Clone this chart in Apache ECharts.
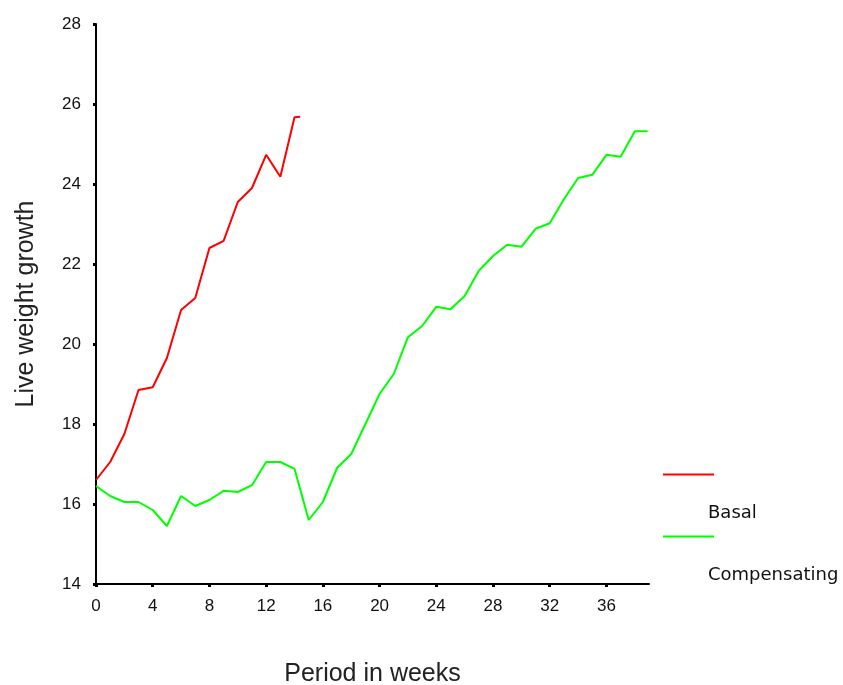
<!DOCTYPE html>
<html>
<head>
<meta charset="utf-8">
<script src="https://cdn.jsdelivr.net/npm/echarts@6/dist/echarts.min.js"></script>
<style>
    html, body { margin: 0; padding: 0; background: #fff; }
    #growthChart { width: 843px; height: 685px; }
</style>
</head>
<body>
<div id="growthChart"></div>
<script>
// weeks and live weight values
const basalWeeks = [0, 1, 2, 3, 4, 5, 6, 7, 8, 9, 10, 11, 12, 13, 14, 14.4];
const basalValues = [16.6, 17.05, 17.75, 18.85, 18.92, 19.65, 20.85, 21.15, 22.4, 22.58, 23.55, 23.9, 24.73, 24.18, 25.67, 25.68];

const compWeeks = [0, 1, 2, 3, 4, 5, 6, 7, 8, 9, 10, 11, 12, 13, 14, 15, 16, 17, 18, 19,
    20, 21, 22, 23, 24, 25, 26, 27, 28, 29, 30, 31, 32, 33, 34, 35, 36, 37, 38, 38.9];
const compValues = [16.45, 16.2, 16.05, 16.05, 15.85, 15.45, 16.2, 15.95, 16.1, 16.33,
    16.3, 16.47, 17.05, 17.05, 16.88, 15.6, 16.05, 16.9, 17.25, 18.0,
    18.75, 19.25, 20.17, 20.45, 20.93, 20.87, 21.2, 21.83, 22.2, 22.48,
    22.43, 22.88, 23.02, 23.62, 24.15, 24.23, 24.73, 24.68, 25.32, 25.32];

const xTicks = [0, 4, 8, 12, 16, 20, 24, 28, 32, 36];

const pairs = (xs, ys) => xs.map((x, i) => [x, ys[i]]);

let Growth = {
    init() {
        this.chart = echarts.init(document.getElementById('growthChart'));
        this.draw();
    },
    // legend text sits one line below its swatch, so each item gets its own legend
    legendCommon() {
        return {
            orient: 'vertical',
            left: 663,
            padding: 0,
            icon: 'rect',
            itemWidth: 51,
            itemHeight: 2,
            selectedMode: false,
            formatter: name => '\n\n' + name,
            textStyle: {
                fontFamily: 'DejaVu Sans',
                fontSize: 18,
                lineHeight: 39,
                color: '#111',
                padding: [0, 0, 0, -11]
            }
        };
    },
    draw() {
        let axisCommon = {
            type: 'value',
            nameLocation: 'middle',
            nameTextStyle: { fontFamily: 'Liberation Sans', fontSize: 25, color: '#222' },
            axisLine: { show: true, lineStyle: { color: '#000', width: 2 } },
            axisTick: { show: true, length: 3, lineStyle: { color: '#000', width: 3 } },
            axisLabel: { fontFamily: 'Liberation Sans', fontSize: 17, color: '#111' },
            splitLine: { show: false }
        };
        this.chart.setOption({
            animation: false,
            backgroundColor: '#fff',
            grid: { left: 96, top: 24, right: 194, bottom: 101, outerBoundsMode: 'none' },
            legend: [
                Object.assign(this.legendCommon(), { top: 416, data: ['Basal'] }),
                Object.assign(this.legendCommon(), { top: 478, data: ['Compensating'] })
            ],
            xAxis: echarts.util.merge({
                name: 'Period in weeks',
                nameGap: 78,
                min: 0,
                max: 39,
                axisTick: { customValues: xTicks },
                axisLabel: { customValues: xTicks, margin: 14 }
            }, axisCommon),
            yAxis: echarts.util.merge({
                name: 'Live weight growth',
                nameGap: 57,
                min: 14,
                max: 28,
                interval: 2,
                axisLabel: { margin: 15 }
            }, axisCommon),
            series: [
                { name: 'Basal', color: '#ff0000', data: pairs(basalWeeks, basalValues) },
                { name: 'Compensating', color: '#00ff00', data: pairs(compWeeks, compValues) }
            ].map(item => Object.assign({
                type: 'line',
                symbol: 'none',
                lineStyle: { width: 2 },
                silent: true
            }, item))
        });
    }
};
Growth.init();
</script>
</body>
</html>
